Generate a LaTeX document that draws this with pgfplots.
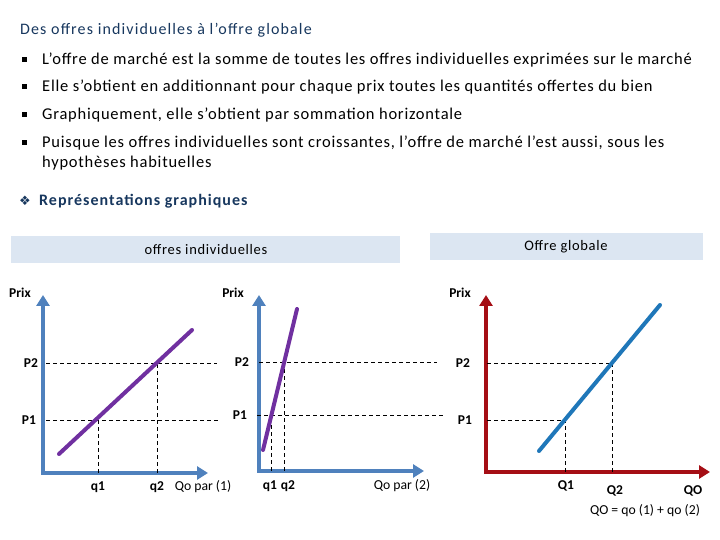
\documentclass[border=0pt]{standalone}
\usepackage{pgfplots}
\pgfplotsset{compat=1.18}
\usetikzlibrary{arrows.meta}
\usepackage{fontspec}
\setmainfont{Carlito}
\newfontfamily\dejavu{DejaVu Sans}

\definecolor{titleblue}{HTML}{17375E}
\definecolor{boxblue}{HTML}{DCE6F2}
\definecolor{axblue}{HTML}{4F81BD}
\definecolor{axred}{HTML}{A50E15}
\definecolor{purp}{HTML}{7030A0}
\definecolor{lineblue}{HTML}{1F77B9}

\pgfplotsset{
  diag/.style={
    scale only axis, clip=false,
    xmin=0, ymin=0,
    axis lines=left,
    xtick=\empty, ytick=\empty,
    anchor=south west,
    axis line style={line width=4bp, line cap=rect},
    x axis line style={-{Triangle[width=13bp,length=11bp]}},
    y axis line style={-{Triangle[width=13bp,length=11bp]}},
  },
  dash/.style={black, line width=0.8bp, dash pattern=on 4bp off 3bp},
  supply/.style={line width=4bp, line cap=round},
}

\newcommand{\lab}{\fontsize{13.5bp}{15bp}\selectfont\bfseries}
\newcommand{\labn}{\fontsize{13.7bp}{15bp}\selectfont}
% coordonnees en pixels, y compte depuis le haut
\def\P(#1,#2){(#1,540-#2)}

\begin{document}
\begin{tikzpicture}[x=1bp, y=1bp]
\path (0,0) rectangle (720,540);

% texte
\node[anchor=west, inner sep=0, text=titleblue, font=\fontsize{16bp}{18bp}\selectfont\addfontfeature{LetterSpace=7}]
  at \P(20,30) {Des offres individuelles à l’offre globale};
\foreach \yy in {60,87,115,143}
  \fill (21.5,540-\yy+3) rectangle (27,540-\yy-2.5);
\begin{scope}[every node/.style={anchor=west, inner sep=0, font=\fontsize{16.5bp}{20bp}\selectfont\addfontfeature{LetterSpace=4.6}}]
\node at \P(42,60) {L'offre de marché est la somme de toutes les offres individuelles exprimées sur le marché};
\node at \P(42,87) {Elle s'obtient en additionnant pour chaque prix toutes les quantités offertes du bien};
\node at \P(42,115) {Graphiquement, elle s'obtient par sommation horizontale};
\node at \P(42,143) {Puisque les offres individuelles sont croissantes, l'offre de marché l'est aussi, sous les};
\node at \P(42,163) {hypothèses habituelles};
\end{scope}
\node[anchor=west, inner sep=0, text=titleblue, font=\fontsize{13bp}{15bp}\dejavu] at \P(19,201) {❖};
\node[anchor=west, inner sep=0, text=titleblue, font=\fontsize{16bp}{18bp}\selectfont\bfseries\addfontfeature{LetterSpace=6.3}] at \P(39,201) {Représentations graphiques};

% bandeaux
\fill[boxblue] \P(11,236) rectangle \P(400,263);
\node[font=\fontsize{14.5bp}{17bp}\selectfont\addfontfeature{LetterSpace=4.8}] at \P(206,250) {offres individuelles};
\fill[boxblue] \P(430,233) rectangle \P(703,260);
\node[font=\fontsize{14.5bp}{17bp}\selectfont\addfontfeature{LetterSpace=4.8}] at \P(566,247) {Offre globale};

% offre individuelle 1
\begin{axis}[diag, at={(43,540-473)}, width=165bp, height=178bp, xmax=165, ymax=178,
  axis line style={axblue}]
  \addplot[dash] coordinates {(3,110) (174,110)};
  \addplot[dash] coordinates {(3,53) (177,53)};
  \addplot[dash] coordinates {(55,0) (55,53)};
  \addplot[dash] coordinates {(114,0) (114,110)};
  \addplot[supply, purp] coordinates {(16,19) (149,143)};
\end{axis}

% offre individuelle 2
\begin{axis}[diag, at={(259,540-471)}, width=165bp, height=176bp, xmax=165, ymax=176,
  axis line style={axblue}]
  \addplot[dash] coordinates {(0,109) (178,109)};
  \addplot[dash] coordinates {(-2,56) (184,56)};
  \addplot[dash] coordinates {(12,0) (12,56)};
  \addplot[dash] coordinates {(25,0) (25,109)};
  \addplot[supply, purp] coordinates {(4,21) (38,162)};
\end{axis}

% offre globale
\begin{axis}[diag, at={(486,540-472)}, width=224bp, height=177bp, xmax=224, ymax=177,
  axis line style={axred}]
  \addplot[dash] coordinates {(1,109) (126,109)};
  \addplot[dash] coordinates {(1,52) (79,52)};
  \addplot[dash] coordinates {(79,0) (79,52)};
  \addplot[dash] coordinates {(126,0) (126,109)};
  \addplot[supply, lineblue] coordinates {(53,21) (174,167)};
\end{axis}

% etiquettes
\node[font=\lab] at \P(20,293) {Prix};
\node[font=\lab] at \P(31,363) {P2};
\node[font=\lab] at \P(29,420) {P1};
\node[font=\lab] at \P(98,487) {q1};
\node[font=\lab] at \P(157,487) {q2};
\node[font=\labn] at \P(203,487) {Qo par (1)};

\node[font=\lab] at \P(233,293) {Prix};
\node[font=\lab] at \P(242,362) {P2};
\node[font=\lab] at \P(240,415) {P1};
\node[font=\lab] at \P(270,486) {q1};
\node[font=\lab] at \P(288,486) {q2};
\node[font=\labn] at \P(402,486) {Qo par (2)};

\node[font=\lab] at \P(460,293) {Prix};
\node[font=\lab] at \P(463,363) {P2};
\node[font=\lab] at \P(465,420) {P1};
\node[font=\lab] at \P(566,486) {Q1};
\node[font=\lab] at \P(615,491) {Q2};
\node[font=\lab] at \P(693,491) {QO};
\node[font=\labn] at \P(645,511) {QO = qo (1) + qo (2)};
\end{tikzpicture}
\end{document}
